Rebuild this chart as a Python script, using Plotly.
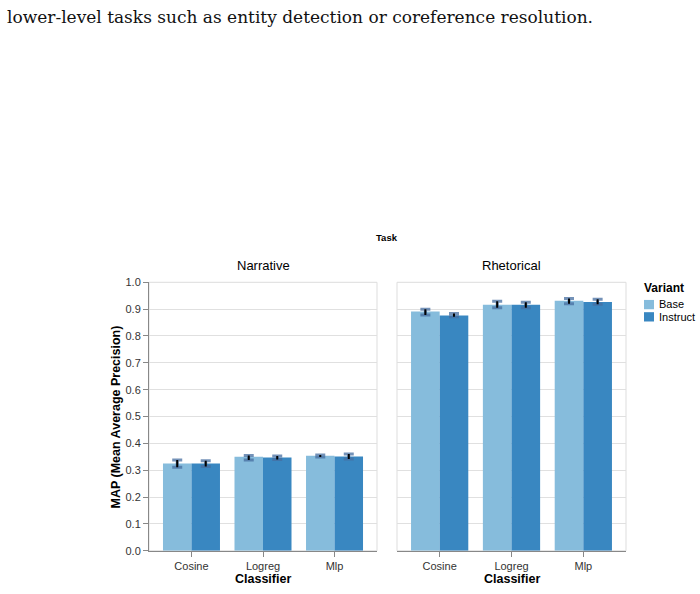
import plotly.graph_objects as go

W, H = 700, 594

classifiers = ["Cosine", "Logreg", "Mlp"]
tasks = ["Narrative", "Rhetorical"]
variants = ["Base", "Instruct"]

# mean MAP values per task / variant (order: Cosine, Logreg, Mlp)
narr_base = [0.325, 0.350, 0.354]
narr_inst = [0.325, 0.347, 0.351]
rhet_base = [0.891, 0.916, 0.931]
rhet_inst = [0.876, 0.916, 0.927]

# confidence interval bounds
narr_base_lo = [0.311, 0.338, 0.349]
narr_base_hi = [0.338, 0.355, 0.357]
narr_inst_lo = [0.314, 0.340, 0.342]
narr_inst_hi = [0.335, 0.353, 0.360]
rhet_base_lo = [0.878, 0.905, 0.920]
rhet_base_hi = [0.900, 0.929, 0.940]
rhet_inst_lo = [0.872, 0.905, 0.918]
rhet_inst_hi = [0.884, 0.926, 0.937]

colors = {"Base": "#86bcdc", "Instruct": "#3987c1"}

data = {
    "Narrative": {"Base": (narr_base, narr_base_lo, narr_base_hi),
                  "Instruct": (narr_inst, narr_inst_lo, narr_inst_hi)},
    "Rhetorical": {"Base": (rhet_base, rhet_base_lo, rhet_base_hi),
                   "Instruct": (rhet_inst, rhet_inst_lo, rhet_inst_hi)},
}

def px_x(p):
    return p / W

def px_y(p):
    return 1 - p / H

y0p, y1p = 556, 282
panels = {"Narrative": (149, 377), "Rhetorical": (397, 626)}

fig = go.Figure()

for i, task in enumerate(tasks):
    xa = "x" if i == 0 else "x2"
    ya = "y" if i == 0 else "y2"
    for v in variants:
        vals, lo, hi = data[task][v]
        plus = [h - m for h, m in zip(hi, vals)]
        minus = [m - l for m, l in zip(vals, lo)]
        fig.add_trace(go.Bar(
            x=classifiers, y=vals, name=v, offsetgroup=v,
            marker=dict(color=colors[v], line=dict(width=0)),
            error_y=dict(type="data", symmetric=False, array=plus, arrayminus=minus,
                         color="rgba(70,110,160,0.75)", thickness=3, width=5),
            xaxis=xa, yaxis=ya, showlegend=False, hoverinfo="skip"))
    for v in variants:
        vals, lo, hi = data[task][v]
        plus = [h - m for h, m in zip(hi, vals)]
        minus = [m - l for m, l in zip(vals, lo)]
        fig.add_trace(go.Bar(
            x=classifiers, y=vals, name=v, offsetgroup=v,
            marker=dict(color="rgba(0,0,0,0)", line=dict(width=0)),
            error_y=dict(type="data", symmetric=False, array=plus, arrayminus=minus,
                         color="#000000", thickness=2, width=0),
            xaxis=xa, yaxis=ya, showlegend=False, hoverinfo="skip"))

font = "Liberation Sans, Arial, sans-serif"
xr = [-0.594, 2.594]

def xaxis_cfg(dom):
    return dict(domain=dom, type="category", range=xr, showgrid=False,
                showline=True, linecolor="#888", linewidth=1,
                ticks="outside", ticklen=5, tickcolor="#888",
                tickfont=dict(family=font, size=11, color="#333"),
                zeroline=False, fixedrange=True)

def yaxis_cfg(dom, anchor, show):
    return dict(domain=dom, anchor=anchor, range=[0, 1], dtick=0.1, tick0=0,
                tickformat=".1f", showgrid=True, gridcolor="#e0e0e0", gridwidth=1,
                showline=show, linecolor="#888", linewidth=1,
                ticks="outside" if show else "", ticklen=5, tickcolor="#888",
                showticklabels=show,
                tickfont=dict(family=font, size=11, color="#333"),
                zeroline=False, fixedrange=True)

ydom = [px_y(y0p), px_y(y1p)]
fig.update_layout(
    width=W, height=H, margin=dict(l=0, r=0, t=0, b=0),
    paper_bgcolor="white", plot_bgcolor="white",
    barmode="group", bargap=0.203, bargroupgap=0,
    xaxis=xaxis_cfg([px_x(149), px_x(377)]),
    xaxis2=dict(**xaxis_cfg([px_x(397), px_x(626)]), anchor="y2"),
    yaxis=yaxis_cfg(ydom, "x", True),
    yaxis2=yaxis_cfg(ydom, "x2", False),
)
fig.layout.xaxis.anchor = "y"

shapes = []
for task, (a, b) in panels.items():
    shapes.append(dict(type="rect", xref="paper", yref="paper",
                       x0=px_x(a), x1=px_x(b), y0=px_y(y0p), y1=px_y(y1p),
                       line=dict(color="#dddddd", width=1), layer="below"))
# legend swatches
shapes.append(dict(type="rect", xref="paper", yref="paper",
                   x0=px_x(644), x1=px_x(654), y0=px_y(309.5), y1=px_y(300),
                   fillcolor=colors["Base"], line=dict(width=0)))
shapes.append(dict(type="rect", xref="paper", yref="paper",
                   x0=px_x(644), x1=px_x(654), y0=px_y(322), y1=px_y(312.5),
                   fillcolor=colors["Instruct"], line=dict(width=0)))
fig.update_layout(shapes=shapes)

ann = []
def txt(x, y, s, size, bold=False, xanchor="center", yanchor="middle", angle=0,
        fam=font, color="#000"):
    ann.append(dict(xref="paper", yref="paper", x=px_x(x), y=px_y(y),
                    text=f"<b>{s}</b>" if bold else s, showarrow=False,
                    xanchor=xanchor, yanchor=yanchor, textangle=angle,
                    font=dict(family=fam, size=size, color=color)))

txt(5, 11, "lower-level tasks such as entity detection or coreference resolution.",
    17, xanchor="left", fam="DejaVu Serif, serif", color="#111")
txt(387, 236, "Task", 9.5, bold=True)
txt(263, 265, "Narrative", 13)
txt(511.5, 265, "Rhetorical", 13)
txt(116, 419, "MAP (Mean Average Precision)", 12.5, bold=True, angle=-90)
txt(263, 585, "Classifier", 12.5, bold=True)
txt(511.5, 585, "Classifier", 12.5, bold=True)
txt(642, 288, "Variant", 12, bold=True, xanchor="left")
txt(657, 304.5, "Base", 11, xanchor="left")
txt(657, 317, "Instruct", 11, xanchor="left")
fig.update_layout(annotations=ann)

fig.write_html("out.html")
